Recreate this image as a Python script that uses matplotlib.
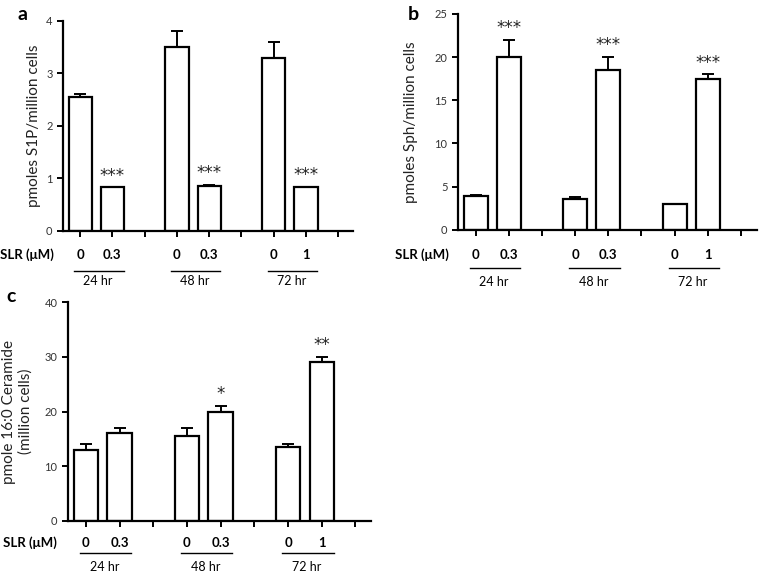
import matplotlib
matplotlib.use("Agg")
import matplotlib.pyplot as plt
from matplotlib.transforms import blended_transform_factory, offset_copy

plt.rcParams['font.family'] = ['Lato', 'DejaVu Sans']

positions = [0, 1, 3, 4, 6, 7]
dose_labels_a = ["0", "0.3", "0", "0.3", "0", "1"]
group_labels = ["24 hr", "48 hr", "72 hr"]
group_starts = [0, 3, 6]

s1p_vals = [2.55, 0.83, 3.5, 0.85, 3.3, 0.83]
s1p_err = [0.05, 0.0, 0.3, 0.02, 0.3, 0.01]
s1p_stars = ["", "***", "", "***", "", "***"]

sph_vals = [3.9, 20.0, 3.6, 18.5, 3.0, 17.5]
sph_err = [0.1, 2.0, 0.2, 1.5, 0.0, 0.5]
sph_stars = ["", "***", "", "***", "", "***"]

cer_vals = [13.0, 16.0, 15.5, 20.0, 13.5, 29.0]
cer_err = [1.0, 1.0, 1.5, 1.0, 0.5, 1.0]
cer_stars = ["", "", "", "*", "", "**"]

fig = plt.figure(figsize=(7.62, 5.76), dpi=100)

def panel(rect, vals, errs, stars, ylim, yticks, ylabel, labelx, offs, slr_dx, letter, letterpos, ylsize=11):
    ax = fig.add_axes(rect)
    ax.bar(positions, vals, width=0.72, color='white', edgecolor='black', linewidth=1.6, zorder=2)
    ax.errorbar(positions, vals, yerr=[[0]*len(errs), errs], fmt='none', ecolor='black',
                elinewidth=1.4, capsize=4, capthick=1.4, zorder=3)
    for x, v, e, s in zip(positions, vals, errs, stars):
        if s:
            ax.annotate(s, (x, v + e), xytext=(0, 2), textcoords='offset points',
                        ha='center', va='bottom', fontsize=12, color='#222222', family='DejaVu Sans')
    ax.set_xlim(-0.53, 8.47)
    ax.set_ylim(*ylim)
    ax.set_yticks(yticks)
    ax.set_xticks(range(9))
    ax.set_xticklabels([])
    for sp in ['top', 'right']:
        ax.spines[sp].set_visible(False)
    for sp in ['left', 'bottom']:
        ax.spines[sp].set_linewidth(1.6)
    ax.tick_params(axis='both', direction='out', length=4, width=1.4, labelsize=8, labelcolor='#333333')
    ax.set_ylabel(ylabel, fontsize=ylsize, color='#222222')
    ax.yaxis.set_label_coords(labelx, 0.5)
    trans = blended_transform_factory(ax.transData, ax.transAxes)
    slr_t = offset_copy(trans, fig=fig, y=-offs[0], units='dots')
    line_t = offset_copy(trans, fig=fig, y=-offs[1], units='dots')
    hr_t = offset_copy(trans, fig=fig, y=-offs[2], units='dots')
    slr_lab_t = offset_copy(ax.transAxes, fig=fig, x=-slr_dx, y=-offs[0], units='dots')
    ax.text(0, 0, "SLR (\u03bcM)", transform=slr_lab_t, ha='right', va='center',
            fontsize=9.5, fontweight='bold', clip_on=False)
    for x, lab in zip(positions, dose_labels_a):
        ax.text(x, 0, lab, transform=slr_t, ha='center', va='center', fontsize=9.5,
                fontweight='bold', clip_on=False)
    for g, lab in zip(group_starts, group_labels):
        ax.plot([g - 0.18, g + 1.35], [0, 0], transform=line_t, color='black', lw=1.0, clip_on=False)
        ax.text(g + 0.55, 0, lab, transform=hr_t, ha='center', va='center', fontsize=9, clip_on=False)
    fig.text(letterpos[0], letterpos[1], letter, fontsize=14, fontweight='bold', ha='center', va='center')
    return ax

panel([0.0827, 0.599, 0.381, 0.365], s1p_vals, s1p_err, s1p_stars, (0, 4), [0, 1, 2, 3, 4],
      "pmoles S1P/million cells", -0.075, (24, 40, 50), 9, "a", (22 / 762, 1 - 14 / 576))
panel([0.601, 0.601, 0.392, 0.375], sph_vals, sph_err, sph_stars, (0, 25), [0, 5, 10, 15, 20, 25],
      "pmoles Sph/million cells", -0.135, (25, 38, 52), 9, "b", (413 / 762, 1 - 15 / 576))
panel([0.0892, 0.0955, 0.398, 0.380], cer_vals, cer_err, cer_stars, (0, 40), [0, 10, 20, 30, 40],
      "pmole 16:0 Ceramide\n(million cells)", -0.115, (22, 32, 46), 11, "c", (11 / 762, 1 - 297 / 576))

fig.savefig("out.png", dpi=100)
